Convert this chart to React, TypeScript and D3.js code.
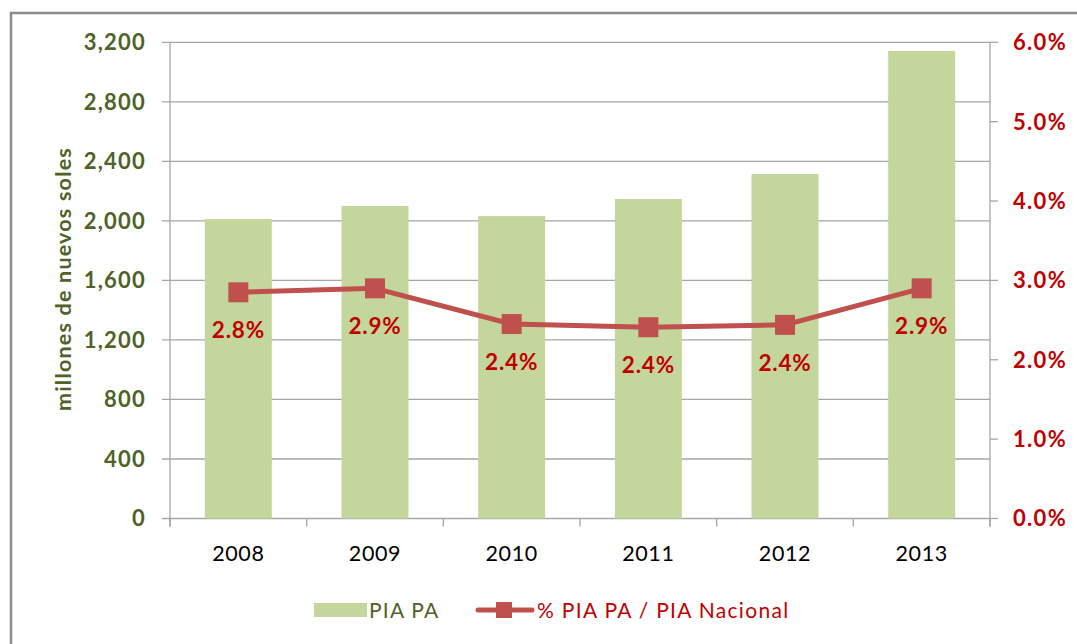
import React from "react";
import * as d3 from "d3";

const years = ["2008", "2009", "2010", "2011", "2012", "2013"];
const piaPA = [2012, 2100, 2032, 2147, 2315, 3142];
const pctPA = [2.85, 2.9, 2.45, 2.41, 2.44, 2.9];
const pctLabels = ["2.8%", "2.9%", "2.4%", "2.4%", "2.4%", "2.9%"];
const leftTicks = [0, 400, 800, 1200, 1600, 2000, 2400, 2800, 3200];
const rightTicks = [0, 1, 2, 3, 4, 5, 6];

const W = 1077;
const H = 644;
const FONT = "Lato, 'Open Sans', sans-serif";
const GREEN_TXT = "#4f6228";
const RED_TXT = "#c00000";
const BAR = "#c3d69b";
const LINE = "#c0504d";
const GRID = "#a6a6a6";

export default function App() {
  const left = 170, right = 990, top = 42.3, bottom = 518.5;
  const x = d3.scaleBand<string>().domain(years).range([left, right]).paddingInner(0.51).paddingOuter(0.255);
  const step = (right - left) / years.length;
  const y = d3.scaleLinear().domain([0, 3200]).range([bottom, top]);
  const y2 = d3.scaleLinear().domain([0, 6]).range([bottom, top]);
  const cx = (d: string) => (x(d) as number) + x.bandwidth() / 2;
  const line = d3.line<number>().x((_, i) => cx(years[i])).y((v) => y2(v));

  return (
    <svg width={W} height={H} style={{ position: "absolute", left: 0, top: 0, background: "#fff" }}>
      {/* frame */}
      <path d={`M11,${H} L11,13 L${W},13`} fill="none" stroke="#8c8c8c" strokeWidth={2.5} />
      {/* gridlines */}
      {leftTicks.map((t) => (
        <line key={"g" + t} x1={left - 8} x2={right} y1={y(t)} y2={y(t)} stroke={GRID} strokeWidth={1.3} />
      ))}
      {/* bars */}
      {years.map((yr, i) => (
        <rect key={yr} x={x(yr)} y={y(piaPA[i])} width={x.bandwidth()} height={bottom - y(piaPA[i])} fill={BAR} />
      ))}
      {/* left axis */}
      <line x1={left} x2={left} y1={top} y2={bottom + 8} stroke={GRID} strokeWidth={1.3} />
      {leftTicks.map((t) => (
        <text key={"l" + t} x={146} y={y(t)} dy="0.36em" textAnchor="end" fill={GREEN_TXT}
          fontFamily={FONT} fontWeight="bold" fontSize={22} letterSpacing={1.2}>{d3.format(",")(t)}</text>
      ))}
      {/* right axis */}
      <line x1={right} x2={right} y1={top} y2={bottom + 8} stroke={GRID} strokeWidth={1.3} />
      {rightTicks.map((t) => (
        <g key={"r" + t}>
          <line x1={right} x2={right + 8} y1={y2(t)} y2={y2(t)} stroke={GRID} strokeWidth={1.3} />
          <text x={1013} y={y2(t)} dy="0.36em" fill={RED_TXT} fontFamily={FONT} fontWeight="bold" fontSize={22} letterSpacing={1.3}>
            {d3.format(".1f")(t) + "%"}
          </text>
        </g>
      ))}
      {/* x axis ticks */}
      {d3.range(years.length + 1).map((i) => (
        <line key={"xt" + i} x1={left + i * step} x2={left + i * step} y1={bottom} y2={bottom + 8} stroke={GRID} strokeWidth={1.3} />
      ))}
      {years.map((yr) => (
        <text key={"xl" + yr} x={cx(yr)} y={561} textAnchor="middle" fill="#000" fontFamily={FONT} fontSize={21.5} letterSpacing={0.6}>{yr}</text>
      ))}
      {/* y axis title */}
      <text transform={`translate(71,279) rotate(-90)`} textAnchor="middle" fill={GREEN_TXT}
        fontFamily={FONT} fontWeight="bold" fontSize={21.5} letterSpacing={1.2}>millones de nuevos soles</text>
      {/* line series */}
      <path d={line(pctPA) || ""} fill="none" stroke={LINE} strokeWidth={5} strokeLinejoin="round" />
      {pctPA.map((v, i) => (
        <rect key={"m" + i} x={cx(years[i]) - 10} y={y2(v) - 10} width={20} height={20} fill={LINE} />
      ))}
      {pctPA.map((v, i) => (
        <text key={"pl" + i} x={cx(years[i])} y={y2(v) + 38} dy="0.36em" textAnchor="middle" fill={RED_TXT}
          fontFamily={FONT} fontWeight="bold" fontSize={22.5} letterSpacing={0.8}>{pctLabels[i]}</text>
      ))}
      {/* legend */}
      <rect x={314} y={603} width={53} height={14} fill={BAR} />
      <text x={369} y={610} dy="0.36em" fill={GREEN_TXT} fontFamily={FONT} fontSize={21} letterSpacing={1.2}>PIA PA</text>
      <line x1={478} x2={532} y1={610} y2={610} stroke={LINE} strokeWidth={5} strokeLinecap="round" />
      <rect x={496} y={602} width={16} height={16} fill={LINE} />
      <text x={537} y={610} dy="0.36em" fill={RED_TXT} fontFamily={FONT} fontSize={21} letterSpacing={1.3}>% PIA PA / PIA Nacional</text>
    </svg>
  );
}
